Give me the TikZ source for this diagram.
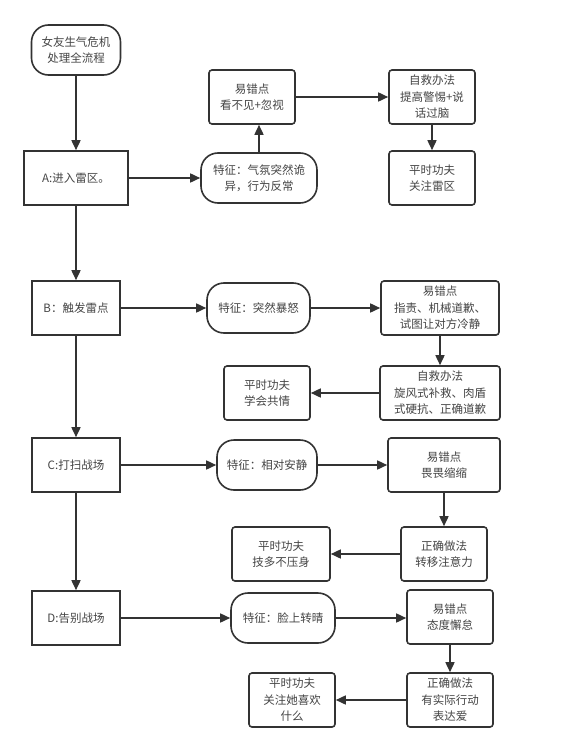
\documentclass[tikz,border=0pt]{standalone}
\usepackage{fontspec}
\setmainfont{Noto Sans CJK SC}
\usepackage{xcolor}
\usepackage{tikz}
\usetikzlibrary{arrows.meta,positioning}
\definecolor{linegray}{HTML}{333333}
\definecolor{textgray}{HTML}{444444}

\begin{document}
\begin{tikzpicture}[x=1pt,y=-1pt,->,>={Triangle[length=10pt,width=9pt]},line width=1.6pt,draw=linegray,
  font=\fontsize{11.5}{16.5}\selectfont,text=textgray,
  stage/.style={draw=linegray,fill=white,align=center,minimum width=88pt,minimum height=54pt,inner sep=2pt},
  sign/.style={draw=linegray,fill=white,rounded corners=17pt,align=center,minimum height=50pt,inner sep=4pt},
  tip/.style={draw=linegray,fill=white,rounded corners=3pt,align=center,minimum height=54pt,inner sep=2pt}]

    \useasboundingbox (0,0) rectangle (584,752);

    % The graph
	\node [sign,minimum width=89pt] at (76,50) (start) {女友生气危机\\处理全流程};
	\node [stage,minimum width=104pt] at (76,178) (A) {A:进入雷区。};
	\node [sign,minimum width=116pt] at (259,178) (fA) {特征：气氛突然诡\\异，行为反常};
	\node [tip,minimum width=86pt] at (252,97) (eA) {易错点\\看不见+忽视};
	\node [tip,minimum width=86pt] at (432,97) (sA) {自救办法\\提高警惕+说\\话过脑};
	\node [tip,minimum width=86pt] at (432,178) (pA) {平时功夫\\关注雷区};

	\node [stage] at (76,308) (B) {B：触发雷点};
	\node [sign,minimum width=103pt] at (258.5,308) (fB) {特征：突然暴怒};
	\node [tip,minimum width=118pt] at (440,308) (eB) {易错点\\指责、机械道歉、\\试图让对方冷静};
	\node [tip,minimum width=120pt] at (440,393) (sB) {自救办法\\旋风式补救、肉盾\\式硬抗、正确道歉};
	\node [tip,minimum width=86pt] at (267,393) (pB) {平时功夫\\学会共情};

	\node [stage] at (76,465) (C) {C:打扫战场};
	\node [sign,minimum width=100pt] at (267,465) (fC) {特征：相对安静};
	\node [tip,minimum width=112pt] at (444,465) (eC) {易错点\\畏畏缩缩};
	\node [tip,minimum width=86pt] at (444,554) (cC) {正确做法\\转移注意力};
	\node [tip,minimum width=98pt] at (281,554) (pC) {平时功夫\\技多不压身};

	\node [stage] at (76,618) (D) {D:告别战场};
	\node [sign,minimum width=104pt] at (283,618) (fD) {特征：脸上转晴};
	\node [tip,minimum width=86pt] at (450,617) (eD) {易错点\\态度懈怠};
	\node [tip,minimum width=86pt] at (450,700) (cD) {正确做法\\有实际行动\\表达爱};
	\node [tip,minimum width=86pt] at (292,700) (pD) {平时功夫\\关注她喜欢\\什么};

	% Graph edges
	\path[->]
	(start) edge (A)
	(A) edge (B)
	(B) edge (C)
	(C) edge (D)
	(A) edge (fA)
	(fA.north) edge (fA.north |- eA.south)
	(eA) edge (sA)
	(sA) edge (pA)
	(B) edge (fB)
	(fB) edge (eB)
	(eB) edge (sB)
	(sB) edge (pB)
	(C) edge (fC)
	(fC) edge (eC)
	(eC) edge (cC)
	(cC) edge (pC)
	(D) edge (fD)
	(fD) edge (fD -| eD.west)
	(eD) edge (cD)
	(cD) edge (pD)
	;

\end{tikzpicture}
\end{document}
